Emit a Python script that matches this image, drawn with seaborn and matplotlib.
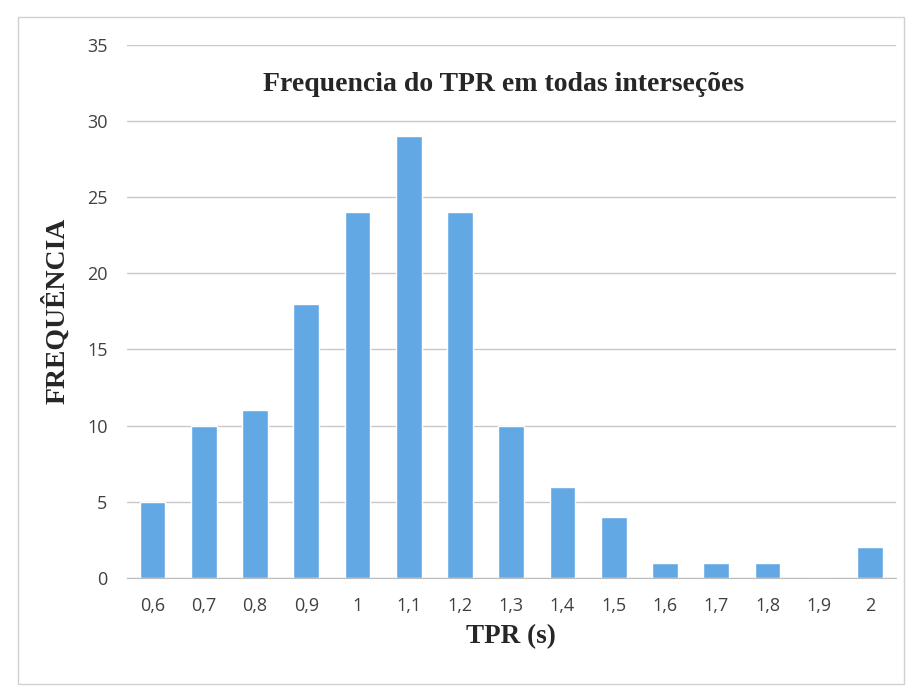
import matplotlib
matplotlib.use('Agg')
import matplotlib.pyplot as plt
import seaborn as sns
import pandas as pd
from matplotlib.patches import Rectangle

# Data
tpr_labels = ['0,6', '0,7', '0,8', '0,9', '1', '1,1', '1,2', '1,3', '1,4', '1,5', '1,6', '1,7', '1,8', '1,9', '2']
frequencia = [5, 10, 11, 18, 24, 29, 24, 10, 6, 4, 1, 1, 1, 0, 2]

df = pd.DataFrame({'TPR': tpr_labels, 'Freq': frequencia})

sns.set_style('white')
plt.rcParams['font.family'] = ['Open Sans', 'DejaVu Sans']

fig = plt.figure(figsize=(9.13, 6.98), dpi=100)
ax = fig.add_axes([0.139, 0.172, 0.842, 0.764])

sns.barplot(data=df, x='TPR', y='Freq', color='#62a8e5', width=0.5, ax=ax, saturation=1)

ax.set_ylim(0, 35)
ax.set_yticks(range(0, 36, 5))
ax.set_xlim(-0.5, len(tpr_labels) - 0.5)
ax.yaxis.grid(True, color='#c8c8c8', linewidth=1)
ax.set_axisbelow(True)

for s in ['top', 'right', 'left']:
    ax.spines[s].set_visible(False)
ax.spines['bottom'].set_color('#bcbcbc')

# category separators as tick marks, like Excel
ax.set_xticks([i - 0.5 for i in range(len(tpr_labels) + 1)], minor=True)
ax.tick_params(axis='x', which='minor', length=5, color='#bcbcbc', direction='out')
ax.tick_params(axis='x', which='major', length=0, pad=14, labelsize=13, labelcolor='#404040')
ax.tick_params(axis='y', length=0, pad=14, labelsize=13, labelcolor='#404040')

ax.set_xlabel('TPR (s)', family='Liberation Serif', fontweight='bold', fontsize=19.5, labelpad=6)
ax.set_ylabel('FREQUÊNCIA', family='Liberation Serif', fontweight='bold', fontsize=20, labelpad=12)
ax.text(0.49, 0.925, 'Frequencia do TPR em todas interseções', transform=ax.transAxes,
        ha='center', va='center', family='Liberation Serif', fontweight='bold', fontsize=20)

# light frame round the chart area
fig.patches.append(Rectangle((0.02, 0.02), 0.97, 0.955, transform=fig.transFigure,
                             fill=False, edgecolor='#d0d0d0', linewidth=1))

fig.savefig('out.png', dpi=100)
